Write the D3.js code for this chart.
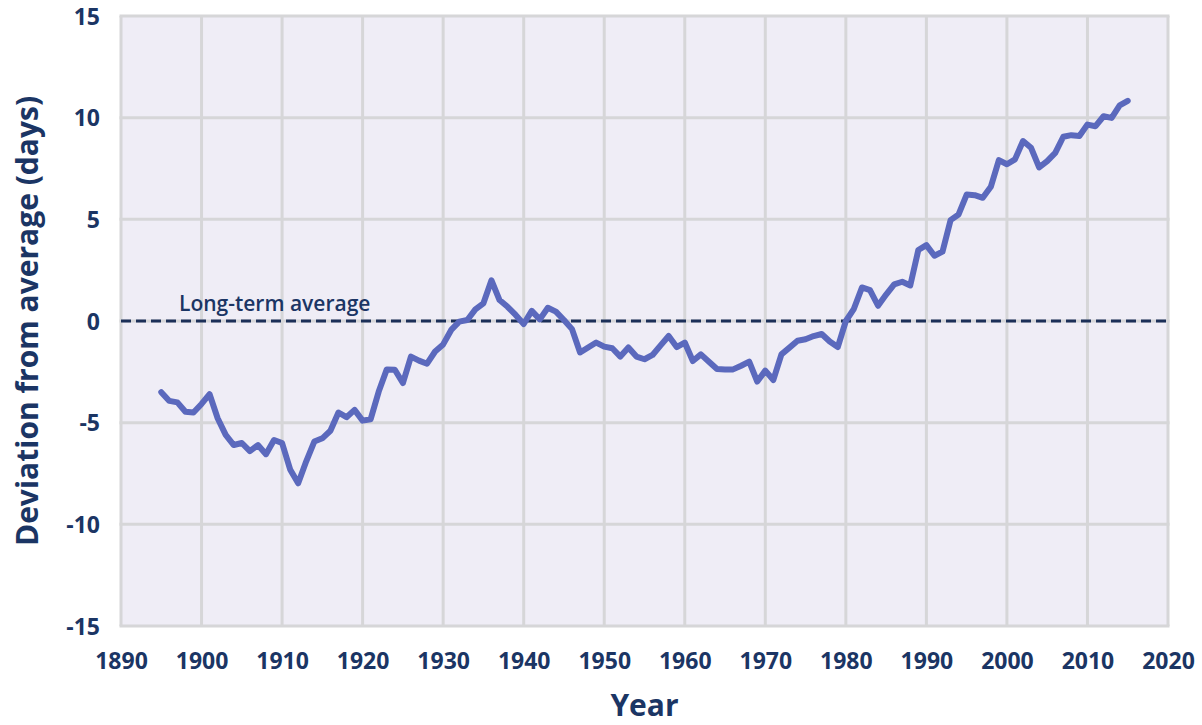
<!DOCTYPE html>
<html>
<head>
<meta charset="utf-8">
<script src="https://cdn.jsdelivr.net/npm/d3@7"></script>
<style>
  body { margin: 0; background: #fff; }
  svg { display: block; font-family: "Open Sans", "Noto Sans", sans-serif; }
</style>
</head>
<body>
<svg id="chart"></svg>
<script>
// years 1895-2015, deviation from long-term average (days)
var startYear = 1895;
var deviation = [
  -3.5, -3.93, -4.0, -4.46, -4.5,
  -4.08, -3.6, -4.78, -5.6, -6.1, -6.0, -6.4, -6.1, -6.55, -5.85,
  -6.0, -7.3, -7.98, -6.9, -5.93, -5.77, -5.4, -4.5, -4.73, -4.37,
  -4.9, -4.83, -3.47, -2.38, -2.4, -3.05, -1.75, -1.95, -2.1, -1.5,
  -1.15, -0.44, -0.03, 0.05, 0.57, 0.87, 2.0, 1.03, 0.7, 0.3,
  -0.15, 0.5, 0.08, 0.65, 0.46, 0.05, -0.4, -1.55, -1.3, -1.06,
  -1.26, -1.34, -1.75, -1.3, -1.75, -1.88, -1.67, -1.2, -0.74, -1.28,
  -1.06, -1.97, -1.64, -2.0, -2.36, -2.38, -2.38, -2.2, -2.0, -2.98,
  -2.44, -2.9, -1.64, -1.31, -0.97, -0.9, -0.74, -0.64, -1.01, -1.28,
  0.0, 0.6, 1.65, 1.52, 0.75, 1.3, 1.8, 1.93, 1.75, 3.49,
  3.73, 3.21, 3.41, 4.96, 5.24, 6.22, 6.19, 6.06, 6.6, 7.91,
  7.71, 7.95, 8.85, 8.52, 7.55, 7.86, 8.27, 9.06, 9.14, 9.1,
  9.66, 9.58, 10.07, 9.99, 10.61, 10.83
];
var xTicks = [1890, 1900, 1910, 1920, 1930, 1940, 1950, 1960, 1970, 1980, 1990, 2000, 2010, 2020];
var yTicks = [-15, -10, -5, 0, 5, 10, 15];
var averageLabel = "Long-term average";

var data = deviation.map(function(v, i) { return {year: startYear + i, value: v}; });

var width = 1202, height = 725;
var margin = {top: 16, right: 34, bottom: 99, left: 121};
var textColor = "#1b3564";

var svg = d3.select("#chart").attr("width", width).attr("height", height);

var x = d3.scaleLinear()
    .domain([1890, 2020])
    .range([margin.left, width - margin.right]);
var y = d3.scaleLinear()
    .domain([-15, 15])
    .range([height - margin.bottom, margin.top]);

// plot background
svg.append("rect")
    .attr("x", x(1890)).attr("y", y(15))
    .attr("width", x(2020) - x(1890))
    .attr("height", y(-15) - y(15))
    .attr("fill", "#efedf6");

// grid
var grid = svg.append("g").attr("stroke", "#d6d6d8").attr("stroke-width", 3);
grid.selectAll(".vx").data(xTicks).enter().append("line")
    .attr("x1", d => x(d)).attr("x2", d => x(d))
    .attr("y1", y(15)).attr("y2", y(-15));
grid.selectAll(".hy").data(yTicks).enter().append("line")
    .attr("y1", d => y(d)).attr("y2", d => y(d))
    .attr("x1", x(1890) - 1.5).attr("x2", x(2020) + 1.5);

// axes (labels only)
var yAxis = g => g
    .attr("class", "y-axis")
    .attr("transform", "translate(" + (margin.left - 21) + ",0)")
    .call(d3.axisLeft(y).tickValues(yTicks).tickFormat(d => String(d)).tickSize(0).tickPadding(0))
    .call(g => g.select(".domain").remove());
var xAxis = g => g
    .attr("transform", `translate(0,${height - margin.bottom + 27})`)
    .call(d3.axisBottom(x).tickValues(xTicks).tickFormat(d3.format("d")).tickSize(0).tickPadding(0))
    .call(g => g.select(".domain").remove());

svg.append("g").call(yAxis);
svg.append("g").call(xAxis);
svg.selectAll(".tick text")
    .attr("fill", textColor)
    .attr("font-size", 23)
    .attr("font-weight", 700)
    .attr("font-family", "'Open Sans', 'Noto Sans', sans-serif");
svg.selectAll(".y-axis .tick text").attr("dy", "0.36em");

// long-term average
svg.append("line")
    .attr("x1", x(1890)).attr("x2", x(2020))
    .attr("y1", y(0)).attr("y2", y(0))
    .attr("stroke", "#1b2f58")
    .attr("stroke-width", 3)
    .attr("stroke-dasharray", "10,5");
svg.append("text")
    .attr("x", x(1897.2))
    .attr("y", y(0) - 10)
    .attr("fill", textColor)
    .attr("font-size", 21)
    .attr("font-weight", 600)
    .text(averageLabel);

// series
var line = d3.line()
    .x(d => x(d.year))
    .y(d => y(d.value));
svg.append("path")
    .datum(data)
    .attr("d", line)
    .attr("fill", "none")
    .attr("stroke", "#5b69bd")
    .attr("stroke-width", 6)
    .attr("stroke-linejoin", "round")
    .attr("stroke-linecap", "round");

// titles
svg.append("text")
    .attr("x", (x(1890) + x(2020)) / 2)
    .attr("y", 716)
    .attr("text-anchor", "middle")
    .attr("fill", textColor)
    .attr("font-size", 30)
    .attr("font-weight", 700)
    .text("Year");
svg.append("text")
    .attr("transform", "translate(38," + y(0) + ") rotate(-90)")
    .attr("text-anchor", "middle")
    .attr("fill", textColor)
    .attr("font-size", 30)
    .attr("font-weight", 700)
    .text("Deviation from average (days)");
</script>
</body>
</html>
